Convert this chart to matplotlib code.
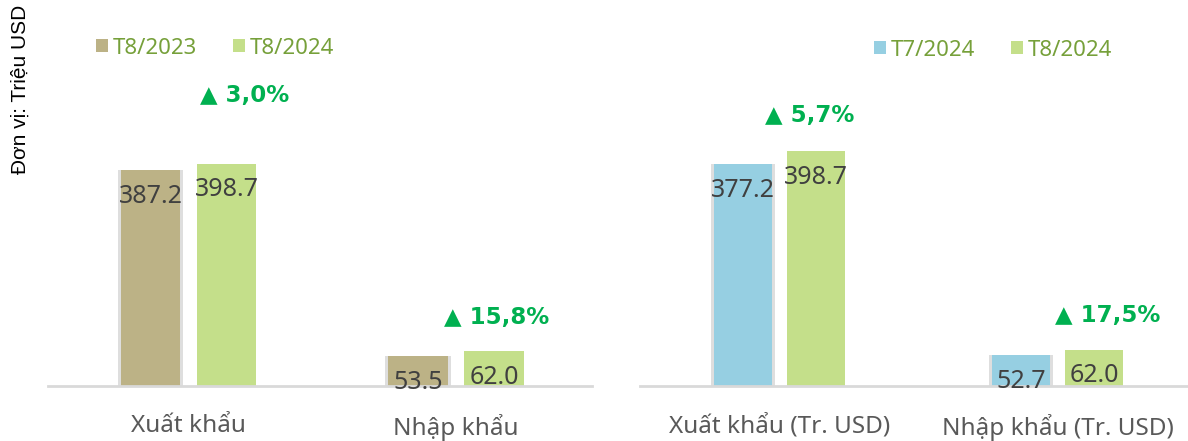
import matplotlib.pyplot as plt
import numpy as np

# Dữ liệu
categories_left = ['Xuất khẩu', 'Nhập khẩu']
series_left = ['T8/2023', 'T8/2024']
values_left_a = [387.2, 53.5]
values_left_b = [398.7, 62.0]
growth_left = ['▲ 3,0%', '▲ 15,8%']

categories_right = ['Xuất khẩu (Tr. USD)', 'Nhập khẩu (Tr. USD)']
series_right = ['T7/2024', 'T8/2024']
values_right_a = [377.2, 52.7]
values_right_b = [398.7, 62.0]
growth_right = ['▲ 5,7%', '▲ 17,5%']

ylabel = 'Đơn vị: Triệu USD'

TAN = '#bcb286'
LIME = '#c4df8a'
BLUE = '#96cfe2'
GREEN = '#00b050'
TXT = '#404040'
LEG = '#76a03a'

plt.rcParams['font.family'] = ['Noto Sans', 'DejaVu Sans']

fig = plt.figure(figsize=(11.88, 4.41), dpi=100)


def draw_panel(rect, cats, names, va, vb, growth, color_a, ylim, xlim, width, off,
               leg_x, leg_y, growth_pos):
    ax = fig.add_axes(rect)
    x = np.arange(len(cats))
    # bóng mờ cho cột thứ nhất
    ax.bar(x - off, va, width=width * 1.1, color='#7f7f7f', alpha=0.25, zorder=1)
    b1 = ax.bar(x - off, va, width=width, color=color_a, zorder=2, label=names[0])
    b2 = ax.bar(x + off, vb, width=width, color=LIME, zorder=2, label=names[1])
    for xi, v in zip(x - off, va):
        ax.annotate(f'{v:.1f}', (xi, v), xytext=(0, -19), textcoords='offset points',
                    ha='center', va='center', fontsize=18, color=TXT, zorder=5)
    for xi, v in zip(x + off, vb):
        ax.annotate(f'{v:.1f}', (xi, v), xytext=(0, -19), textcoords='offset points',
                    ha='center', va='center', fontsize=18, color=TXT, zorder=5)
    for xi, (gx, gy), g in zip(x, growth_pos, growth):
        ax.text(xi + gx, gy, g, ha='center', va='center', fontsize=16.5,
                fontweight='bold', color=GREEN, family=['DejaVu Sans'])
    ax.set_xlim(*xlim)
    ax.set_ylim(*ylim)
    ax.set_xticks(x)
    ax.set_xticklabels(cats, fontsize=17.5, color='#595959')
    ax.tick_params(axis='x', length=0, pad=20)
    ax.set_yticks([])
    for s in ['top', 'right', 'left']:
        ax.spines[s].set_visible(False)
    ax.spines['bottom'].set_color('#d9d9d9')
    ax.spines['bottom'].set_linewidth(2)
    ax.spines['bottom'].set_zorder(4)
    fig.legend(handles=[b1, b2], labels=names, loc='center',
               bbox_to_anchor=(leg_x, leg_y), ncol=2, frameon=False,
               fontsize=16, labelcolor=LEG, handlelength=0.55, handleheight=0.55,
               handletextpad=0.2, columnspacing=1.6)
    return ax


draw_panel([48 / 1188, 55 / 441, 544 / 1188, 386 / 441], categories_left, series_left,
           values_left_a, values_left_b, growth_left, TAN, (0, 692), (-0.525, 1.508),
           0.224, 0.142, 215 / 1188, 1 - 48 / 441, [(0.21, 520), (0.15, 122)])

draw_panel([640 / 1188, 55 / 441, 548 / 1188, 386 / 441], categories_right, series_right,
           values_right_a, values_right_b, growth_right, BLUE, (0, 656), (-0.502, 1.469),
           0.209, 0.131, 993 / 1188, 1 - 50 / 441, [(0.11, 460), (0.18, 119)])

fig.text(20 / 1188, 1 - 89 / 441, ylabel, rotation=90, ha='center', va='center',
         fontsize=15, color='black', family=['Liberation Sans'])

fig.savefig('out.png', dpi=100)
